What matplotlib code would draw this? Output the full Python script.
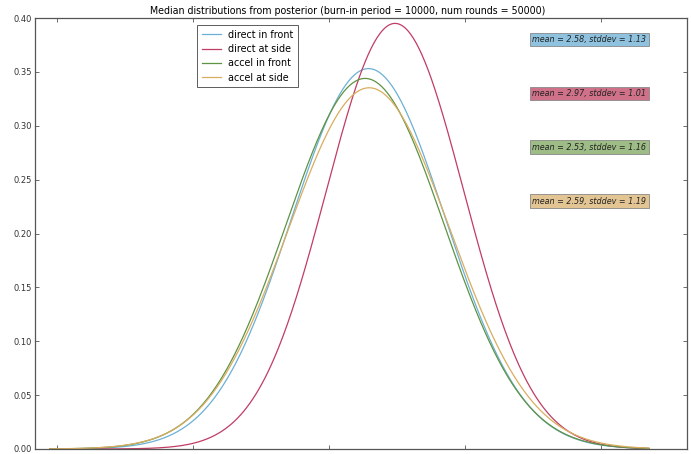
import numpy as np
import matplotlib
matplotlib.use('Agg')
import matplotlib.pyplot as plt

# posterior median parameters per condition
labels  = ['direct in front', 'direct at side', 'accel in front', 'accel at side']
means   = [2.58, 2.97, 2.53, 2.59]
stddevs = [1.13, 1.01, 1.16, 1.19]
colors  = ['#6cb0d6', '#c13c64', '#5e9344', '#d9ad60']
box_colors = ['#8fc2de', '#cf7189', '#9dbc86', '#e3c593']
box_y   = [0.38, 0.33, 0.28, 0.23]

x_lo, x_hi = -2.1, 6.7


def normal_pdf(x, mu, sd):
    return np.exp(-0.5 * ((x - mu) / sd) ** 2) / (sd * np.sqrt(2 * np.pi))


fig = plt.figure(figsize=(6.91, 4.54), dpi=100, facecolor='white')
ax = fig.add_axes([35 / 691, 5 / 454, 652 / 691, 431 / 454])

xs = np.linspace(x_lo, x_hi, 400)
for lab, mu, sd, col in zip(labels, means, stddevs, colors):
    ax.plot(xs, normal_pdf(xs, mu, sd), color=col, lw=0.9, label=lab)

for mu, sd, bc, yy in zip(means, stddevs, box_colors, box_y):
    ax.text(0.85, yy, 'mean = %.2f, stddev = %.2f' % (mu, sd),
            transform=ax.get_yaxis_transform(), ha='center', va='center',
            fontsize=5.8, style='italic', color='#222222',
            bbox=dict(boxstyle='square,pad=0.3', facecolor=bc, edgecolor='#888888', lw=0.6))

ax.set_xlim(-2.32, 7.26)
ax.set_ylim(0, 0.40)
ax.set_xticks([-2, 0, 2, 4, 6])
ax.set_xticklabels([])
ax.set_yticks(np.arange(0, 0.401, 0.05))
ax.set_yticklabels(['%.2f' % v for v in np.arange(0, 0.401, 0.05)])
ax.tick_params(direction='in', length=3, width=0.6, top=True, right=True,
               labelsize=6, colors='#555555', labelcolor='#333333', pad=2)
for sp in ax.spines.values():
    sp.set_color('#555555')
    sp.set_linewidth(0.9)

fig.text(348 / 691, 1 - 18 / 454 + 2 / 454,
         'Median distributions from posterior (burn-in period = 10000, num rounds = 50000)',
         fontsize=6.85, ha='center', va='bottom')

leg = ax.legend(loc='upper left', bbox_to_anchor=(0.2485, 0.984), fontsize=6.9,
                frameon=True, fancybox=False, handlelength=2.0, borderpad=0.5,
                labelspacing=0.45, borderaxespad=0, handletextpad=0.7)
leg.get_frame().set_edgecolor('#333333')
leg.get_frame().set_linewidth(0.7)

fig.savefig('out.png', dpi=100, facecolor='white')
